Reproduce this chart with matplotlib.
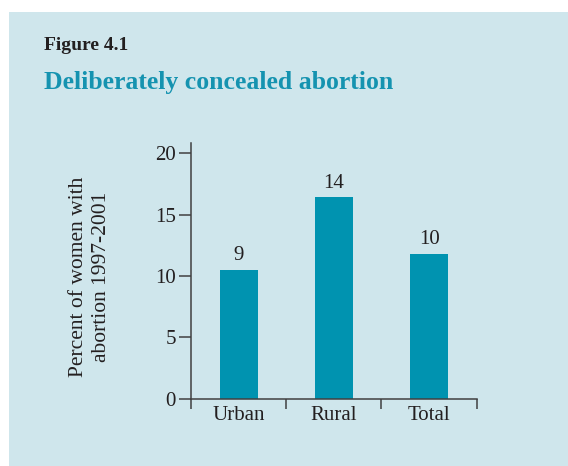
import matplotlib
matplotlib.use('Agg')
import matplotlib.pyplot as plt
from matplotlib.patches import Rectangle

# data (bar heights vs printed labels differ in the original)
categories = ['Urban', 'Rural', 'Total']
bar_heights = [10.5, 16.4, 11.8]
bar_labels = ['9', '14', '10']
y_ticks = [0, 5, 10, 15, 20]

PANEL = '#cfe6ec'
BAR = '#0093b0'
TITLE = '#1593b0'
INK = '#231f20'
AXIS = '#404040'

W, H = 568, 466

plt.rcParams['font.family'] = 'Liberation Serif'

fig = plt.figure(figsize=(W / 100, H / 100), dpi=100)
fig.patch.set_facecolor('white')
fig.add_artist(Rectangle((9 / W, 0), 1, (H - 12) / H, transform=fig.transFigure,
                         facecolor=PANEL, edgecolor='none', zorder=-10))

fig.text(44 / W, 1 - 50 / H, 'Figure 4.1', fontsize=14, fontweight='bold',
         color=INK, va='baseline', ha='left')
fig.text(44 / W, 1 - 89 / H, 'Deliberately concealed abortion', fontsize=18.5,
         fontweight='bold', color=TITLE, va='baseline', ha='left')

ax = fig.add_axes([191 / W, (H - 398.7) / H, 285.7 / W, 256 / H])
ax.set_facecolor('none')

x = list(range(len(categories)))
ax.bar(x, bar_heights, width=0.4, color=BAR, zorder=2)
for xi, h, lab in zip(x, bar_heights, bar_labels):
    ax.text(xi, h + 0.4, lab, ha='center', va='bottom', fontsize=15, color=INK)

ax.set_xlim(-0.5, 2.5)
ax.set_ylim(0, 20.86)

for s in ['top', 'right']:
    ax.spines[s].set_visible(False)
for s in ['left', 'bottom']:
    ax.spines[s].set_color(AXIS)
    ax.spines[s].set_linewidth(1.1)

ax.set_xticks([-0.5, 0.5, 1.5, 2.5])
ax.set_xticklabels([])
ax.set_xticks(x, minor=True)
ax.set_xticklabels(categories, minor=True, fontsize=15, color=INK)
ax.tick_params(axis='x', which='major', direction='out', length=7, width=1.1, color=AXIS)
ax.tick_params(axis='x', which='minor', length=0, pad=5)

ax.set_yticks(y_ticks)
ax.set_yticklabels([str(t) for t in y_ticks], fontsize=15, color=INK)
ax.tick_params(axis='y', direction='out', length=9, width=1.1, color=AXIS, pad=2)

fig.text(90 / W, 1 - 277 / H, 'Percent of women with\nabortion 1997-2001',
         rotation=90, ha='center', va='center', fontsize=15.5, color=INK,
         linespacing=1.3, multialignment='center')

fig.savefig('out.png', dpi=100, facecolor=fig.get_facecolor())
plt.close()
